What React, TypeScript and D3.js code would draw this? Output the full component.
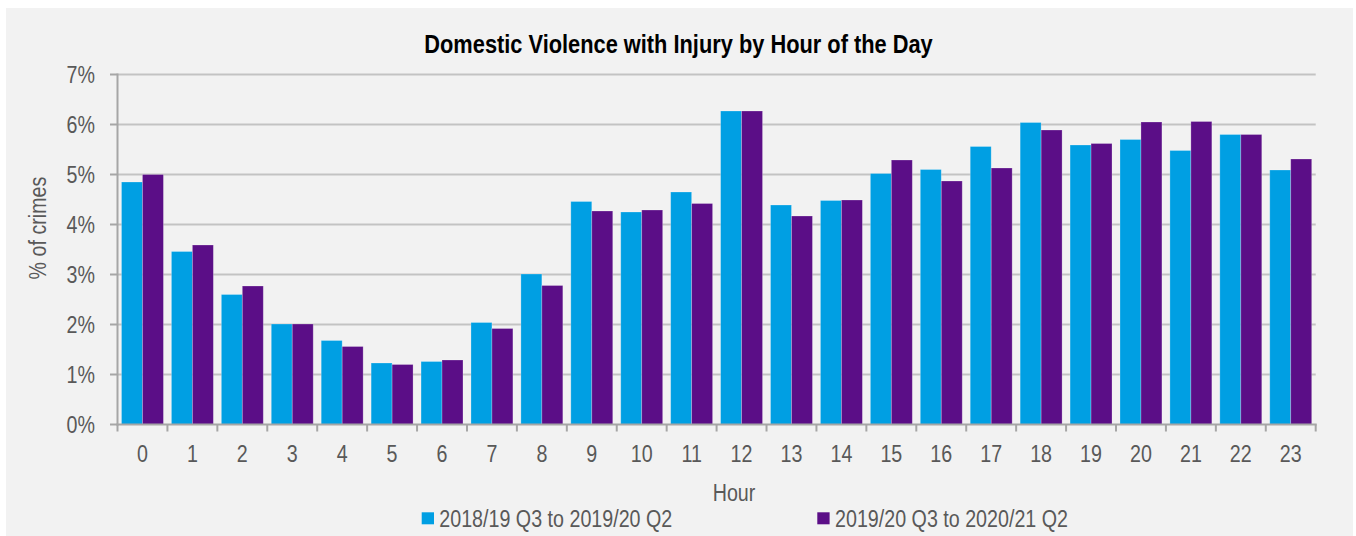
import React from "react";
import * as d3 from "d3";

const hours: string[] = ["0","1","2","3","4","5","6","7","8","9","10","11","12","13","14","15","16","17","18","19","20","21","22","23"];
const series1Name = "2018/19 Q3 to 2019/20 Q2";
const series2Name = "2019/20 Q3 to 2020/21 Q2";
const series1: number[] = [4.85,3.46,2.60,2.01,1.68,1.23,1.26,2.04,3.01,4.46,4.25,4.65,6.27,4.39,4.48,5.02,5.10,5.56,6.04,5.59,5.70,5.48,5.80,5.09];
const series2: number[] = [5.00,3.59,2.77,2.01,1.56,1.20,1.29,1.92,2.78,4.27,4.29,4.42,6.27,4.17,4.49,5.29,4.87,5.13,5.89,5.62,6.05,6.06,5.80,5.31];
const yTicks: number[] = [0,1,2,3,4,5,6,7];
const titleText = "Domestic Violence with Injury by Hour of the Day";
const yTitle = "% of crimes";
const xTitle = "Hour";

const W = 1356, H = 536;
const FONT = "'Liberation Sans', Arial, sans-serif";
const SX = 0.82;
const TEXT_COL = "#595959";
const C1 = "#009FE3";
const C2 = "#5B0E87";

if (typeof document !== "undefined") {
  document.body.style.margin = "0";
}

function NText(props: { x: number; y: number; anchor?: string; size?: number; weight?: string; fill?: string; rotate?: number; children: React.ReactNode }) {
  const { x, y, anchor = "start", size = 24, weight = "normal", fill = TEXT_COL, rotate = 0, children } = props;
  return (
    <g transform={`translate(${x},${y}) rotate(${rotate}) scale(${SX},1)`}>
      <text x={0} y={0} textAnchor={anchor} fontFamily={FONT} fontSize={size} fontWeight={weight} fill={fill}>{children}</text>
    </g>
  );
}

export default function App() {
  const x0 = d3.scaleBand<string>().domain(hours).range([117.5, 1315.7]).paddingInner(0.16).paddingOuter(0.08);
  const x1 = d3.scaleBand<string>().domain(["a", "b"]).range([0, x0.bandwidth()]);
  const y = d3.scaleLinear().domain([0, 7]).range([424.5, 74.5]);
  const step = x0.step();
  const left = 117.5, right = 1315.7;
  const boundaries = d3.range(hours.length + 1).map((i) => left + i * step);

  return (
    <svg width={W} height={H} style={{ display: "block" }}>
      <rect x={0} y={0} width={W} height={H} fill="#ffffff" />
      <rect x={6} y={8} width={1347} height={H - 8} fill="#F2F2F2" />
      {/* gridlines */}
      {yTicks.filter((t) => t > 0).map((t) => (
        <line key={"g" + t} x1={left} x2={right} y1={y(t)} y2={y(t)} stroke="#C3C3C3" strokeWidth={2} />
      ))}
      {/* bars */}
      {hours.map((h, i) => (
        <g key={"b" + h}>
          <rect x={(x0(h) as number) + (x1("a") as number)} y={y(series1[i])} width={x1.bandwidth()} height={y(0) - y(series1[i])} fill={C1} stroke="rgba(255,255,255,0.3)" strokeWidth={0.8} />
          <rect x={(x0(h) as number) + (x1("b") as number)} y={y(series2[i])} width={x1.bandwidth()} height={y(0) - y(series2[i])} fill={C2} stroke="rgba(255,255,255,0.3)" strokeWidth={0.8} />
        </g>
      ))}
      {/* y axis */}
      <line x1={left} x2={left} y1={y(7) - 1} y2={y(0) + 1} stroke="#A6A6A6" strokeWidth={2} />
      {yTicks.map((t) => (
        <line key={"yt" + t} x1={110} x2={left} y1={y(t)} y2={y(t)} stroke="#A6A6A6" strokeWidth={2} />
      ))}
      {yTicks.map((t) => (
        <NText key={"yl" + t} x={95} y={y(t) + 8.5} anchor="end">{t + "%"}</NText>
      ))}
      {/* x axis */}
      <line x1={left - 1} x2={right + 1} y1={y(0)} y2={y(0)} stroke="#A6A6A6" strokeWidth={2} />
      {boundaries.map((bx, i) => (
        <line key={"xt" + i} x1={bx} x2={bx} y1={y(0)} y2={y(0) + 7} stroke="#A6A6A6" strokeWidth={2} />
      ))}
      {hours.map((h) => (
        <NText key={"xl" + h} x={(x0(h) as number) + x0.bandwidth() / 2} y={462} anchor="middle">{h}</NText>
      ))}
      {/* titles */}
      <NText x={678.5} y={53.3} anchor="middle" size={26.6} weight="bold" fill="#000000">{titleText}</NText>
      <NText x={734} y={500.5} anchor="middle">{xTitle}</NText>
      <NText x={46} y={228} anchor="middle" rotate={-90}>{yTitle}</NText>
      {/* legend */}
      <rect x={421.7} y={512.3} width={12.3} height={12} fill={C1} />
      <NText x={439.3} y={527.3}>{series1Name}</NText>
      <rect x={817.3} y={512.3} width={12.3} height={12} fill={C2} />
      <NText x={835} y={527.3}>{series2Name}</NText>
    </svg>
  );
}
